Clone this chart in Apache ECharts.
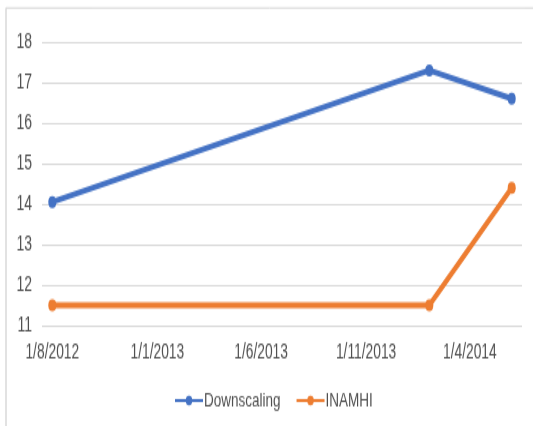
<!DOCTYPE html>
<html>
<head>
<meta charset="utf-8">
<style>
  html, body { margin: 0; padding: 0; background: #fff; }
  #frame { width: 533px; height: 426px; position: relative; }
  /* The chart is laid out on a shorter canvas and stretched vertically,
     which gives the tall, condensed look of the lettering and markers. */
  #chart { position: absolute; left: 0; top: 0; width: 533px; height: 284px;
           transform: scaleY(1.5); transform-origin: 0 0; }
</style>
<script src="https://cdn.jsdelivr.net/npm/echarts@6/dist/echarts.min.js"></script>
</head>
<body>
<div id="frame"><div id="chart"></div></div>
<script>
// Observation dates (yyyy-mm-dd) and the two series measured on them
const dates = ['2012-08-01', '2014-02-01', '2014-06-01'];
const downscaling = [14.05, 17.3, 16.6];
const inamhi = [11.5, 11.5, 14.4];

// Dates that carry a label on the horizontal axis
const tickDates = ['2012-08-01', '2013-01-01', '2013-06-01', '2013-11-01', '2014-04-01'];

// Axis extent: half a month of padding on each side of the data
const xStart = '2012-07-17';
const xEnd = '2014-06-16';
const yMin = 11, yMax = 18, yStep = 1;

function toTime(s) {
  const p = s.split('-').map(Number);
  return new Date(p[0], p[1] - 1, p[2]).getTime();
}
function fmt(t) {
  const d = new Date(t);
  return d.getDate() + '/' + (d.getMonth() + 1) + '/' + d.getFullYear();
}

const FONT = "'Liberation Sans', Arial, sans-serif";
const TEXT = '#505050';
const GRID = '#d9d9d9';

const chart = echarts.init(document.getElementById('chart'), null, { renderer: 'canvas' });

chart.setOption({
  animation: false,
  backgroundColor: '#fff',
  textStyle: { fontFamily: FONT },
  graphic: [
    { type: 'line', shape: { x1: 6, y1: 5.3, x2: 533, y2: 5.3 }, style: { stroke: GRID, lineWidth: 1 } },
    { type: 'line', shape: { x1: 6, y1: 5.3, x2: 6, y2: 284 }, style: { stroke: GRID, lineWidth: 1.5 } }
  ],
  grid: { left: 42, right: 11, top: 28, bottom: 67, containLabel: false },
  legend: {
    left: 169,
    top: 255,
    itemWidth: 28,
    itemHeight: 8,
    itemGap: 15,
    textStyle: { fontFamily: FONT, fontSize: 13.5, color: TEXT, padding: [0, 0, 0, -4] },
    data: ['Downscaling', 'INAMHI']
  },
  xAxis: {
    type: 'value',
    min: toTime(xStart),
    max: toTime(xEnd),
    axisLine: { show: false },
    axisTick: { show: false },
    splitLine: { show: false },
    axisLabel: {
      customValues: tickDates.map(toTime),
      formatter: function (v) { return fmt(v); },
      fontFamily: FONT,
      fontSize: 13.8,
      color: TEXT,
      margin: 11,
      hideOverlap: false
    }
  },
  yAxis: {
    type: 'value',
    min: yMin,
    max: yMax,
    interval: yStep,
    axisLine: { show: false },
    axisTick: { show: false },
    splitLine: { show: true, lineStyle: { color: GRID, width: 1.2 } },
    axisLabel: { fontFamily: FONT, fontSize: 14, color: TEXT, margin: 10 }
  },
  series: [
    {
      name: 'Downscaling',
      type: 'line',
      data: dates.map((d, i) => [toTime(d), downscaling[i]]),
      symbol: 'circle',
      symbolSize: 8,
      lineStyle: { width: 4, color: '#4472C4' },
      itemStyle: { color: '#4472C4' }
    },
    {
      name: 'INAMHI',
      type: 'line',
      data: dates.map((d, i) => [toTime(d), inamhi[i]]),
      symbol: 'circle',
      symbolSize: 8,
      lineStyle: { width: 4, color: '#ED7D31' },
      itemStyle: { color: '#ED7D31' }
    }
  ]
});
</script>
</body>
</html>
